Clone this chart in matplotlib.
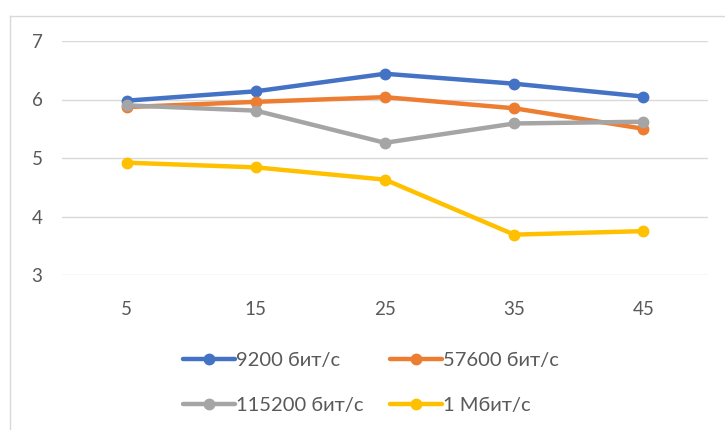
import matplotlib.pyplot as plt
from matplotlib.lines import Line2D

# podaci ocitani sa slike
kategorije = ['5', '15', '25', '35', '45']
serije = ['9200 бит/с', '57600 бит/с', '115200 бит/с', '1 Мбит/с']
v_9200 = [5.98, 6.14, 6.44, 6.27, 6.05]
v_57600 = [5.87, 5.96, 6.04, 5.85, 5.50]
v_115200 = [5.90, 5.81, 5.26, 5.59, 5.62]
v_1m = [4.92, 4.84, 4.63, 3.69, 3.75]
y_ticks = [3, 4, 5, 6, 7]

boje = ['#4472C4', '#ED7D31', '#A5A5A5', '#FFC000']
tekst = '#595959'

plt.rcParams['font.family'] = ['Lato', 'DejaVu Sans']

fig = plt.figure(figsize=(7.25, 4.3), dpi=100)
ax = fig.add_axes([62/725, 1-275/430, (708-62)/725, (275-41)/430])

x = range(len(kategorije))
linije = []
for vals, naziv, boja in zip([v_9200, v_57600, v_115200, v_1m], serije, boje):
    l, = ax.plot(x, vals, color=boja, linewidth=3.2, marker='o', markersize=7.5,
                 label=naziv, solid_capstyle='round', zorder=3)
    linije.append(l)

ax.set_xlim(-0.5, len(kategorije) - 0.5)
ax.set_ylim(3, 7)
ax.set_yticks(y_ticks)
ax.set_xticks(list(x))
ax.set_xticklabels(kategorije)
ax.grid(True, axis='y', color='#D9D9D9', linewidth=1)
for s in ax.spines.values():
    s.set_visible(False)
ax.tick_params(length=0, labelsize=13.5, labelcolor=tekst)
ax.tick_params(axis='x', pad=19)
ax.tick_params(axis='y', pad=14)
ax.set_axisbelow(True)

# legenda po redovima kao u Excelu
red = [0, 2, 1, 3]
leg = fig.legend([linije[i] for i in red], [serije[i] for i in red],
                 loc='center', bbox_to_anchor=(371/725, 1-383/430), ncol=2,
                 frameon=False, fontsize=14.5, handlelength=2.6,
                 handletextpad=0.05, columnspacing=1.3, labelspacing=1.35)
for t in leg.get_texts():
    t.set_color(tekst)

# okvir grafikona
fig.add_artist(Line2D([10/725, 10/725], [0, 1-16/430], color='#D9D9D9', linewidth=1))
fig.add_artist(Line2D([10/725, 1], [1-16/430, 1-16/430], color='#D9D9D9', linewidth=1))

fig.savefig('out.png', dpi=100)
